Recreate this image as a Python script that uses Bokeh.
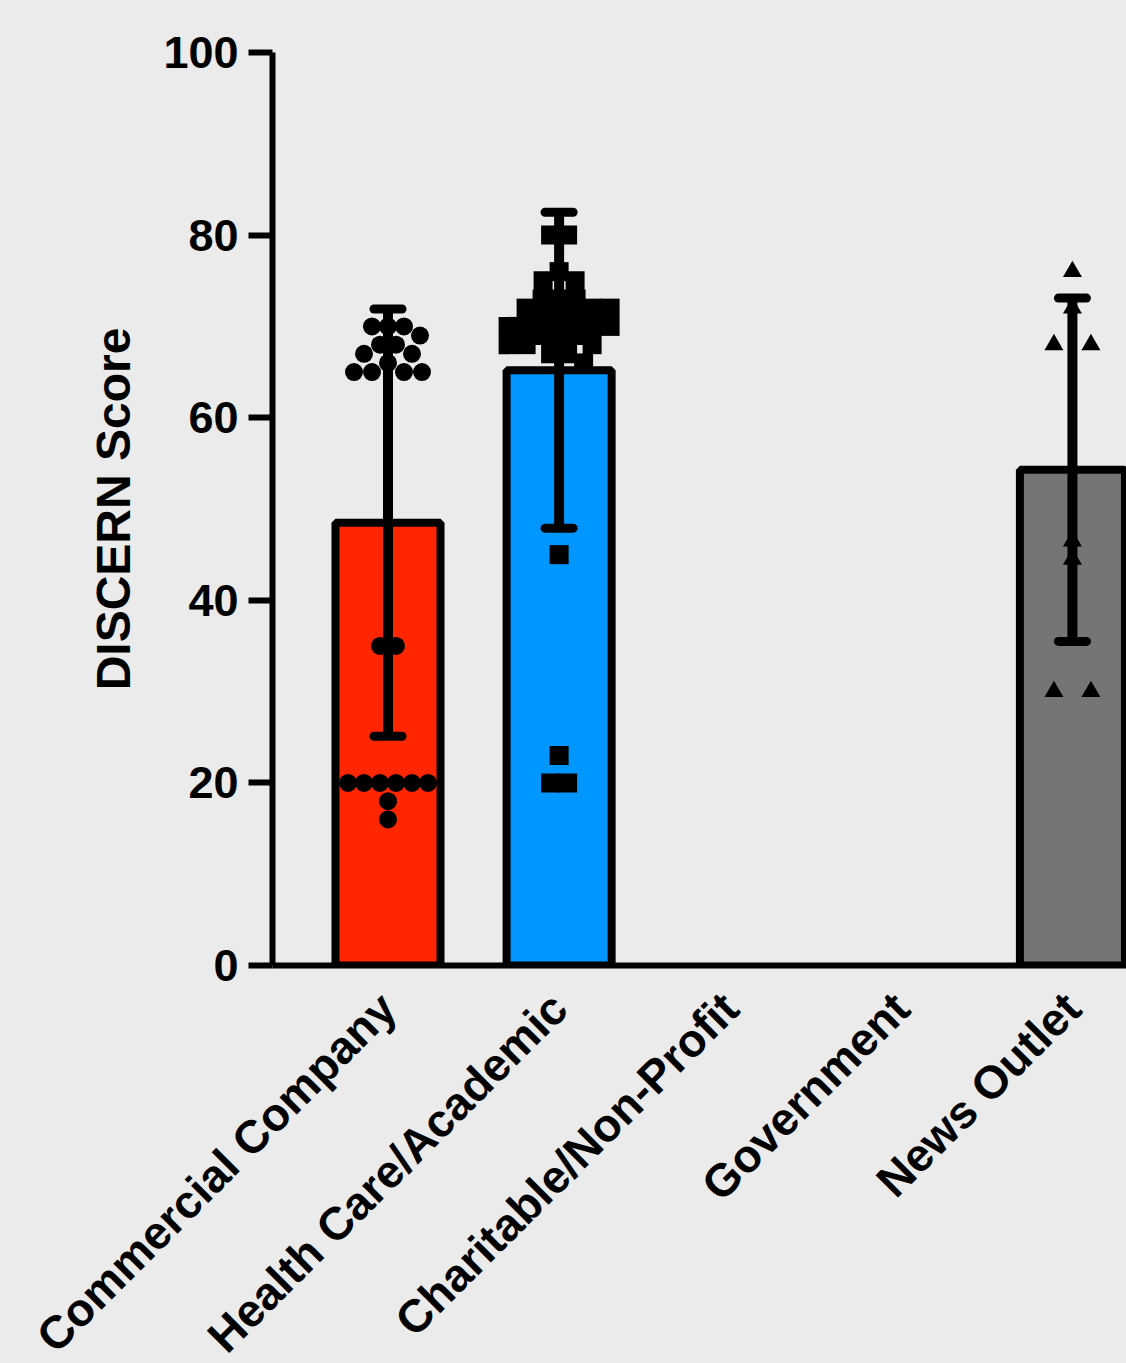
import numpy as np
from bokeh.plotting import figure
from bokeh.models import Range1d, FixedTicker, ColumnDataSource
from bokeh.embed import file_html
from bokeh.resources import INLINE

# ---------------- data ----------------
categories = ["Commercial Company", "Health Care/Academic", "Charitable/Non-Profit",
              "Government", "News Outlet"]
bar_means = [48.5, 65.2, None, None, 54.3]
bar_sds = [23.4, 17.3, None, None, 18.8]
bar_colors = ["#FF2600", "#0096FF", None, None, "#757575"]

commercial_scores = [70, 70, 70, 69, 68, 68, 67, 67, 66, 65, 65, 65, 65,
                     35, 35, 20, 20, 20, 20, 20, 20, 18, 16]
health_scores = [80, 80, 76, 75, 75, 73, 73, 73, 72, 72, 72, 71, 71, 71,
                 70, 70, 70, 70, 69, 69, 69, 68, 68, 68, 67, 67, 66, 45, 23, 20, 20]
news_scores = [76, 72, 68, 68, 46.5, 44.5, 30, 30]

y_ticks = [0, 20, 40, 60, 80, 100]

# ---------------- layout ----------------
BL, BT = 272, 52
FW, FH = 854, 913
X0, X1 = -0.675, 4.316
PX_X = FW / (X1 - X0)
PX_Y = FH / 100.0
BG = "#EBEBEB"
FONT = "Liberation Sans"

p = figure(frame_width=FW, frame_height=FH, output_backend="svg", toolbar_location=None,
           x_range=Range1d(X0, X1), y_range=Range1d(0, 100),
           min_border_left=BL, min_border_right=0, min_border_top=BT,
           min_border_bottom=0)
p.background_fill_color = BG
p.border_fill_color = BG
p.outline_line_color = None
p.xgrid.grid_line_color = None
p.ygrid.grid_line_color = None

# bars
bx = [i for i, m in enumerate(bar_means) if m is not None]
src_bars = ColumnDataSource(dict(
    x=bx, top=[bar_means[i] for i in bx], color=[bar_colors[i] for i in bx]))
p.vbar(x="x", top="top", bottom=0, width=0.614, fill_color="color",
       line_color="black", line_width=8, source=src_bars)


def swarm(vals, diam, row_gap):
    """Beeswarm offsets (data units): ties form centred rows, others greedy."""
    offs = [0.0] * len(vals)
    placed = []
    groups = {}
    for i, v in enumerate(vals):
        groups.setdefault(v, []).append(i)
    balance = 0

    def free(c, y):
        return all((c - px) ** 2 + (y - py) ** 2 >= diam ** 2 for px, py in placed)

    for v in sorted(groups, reverse=True):
        idx = groups[v]
        y = v * PX_Y
        n = len(idx)
        row = [(j - (n - 1) / 2.0) * row_gap for j in range(n)]
        if n > 1 and all(free(c, y) for c in row):
            for i, c in zip(idx, row):
                placed.append((c, y))
                offs[i] = c / PX_X
            continue
        for i in idx:
            best = None
            for k in range(0, 800):
                if k == 0:
                    cands = [0.0]
                elif balance <= 0:
                    cands = [k * 0.5, -k * 0.5]
                else:
                    cands = [-k * 0.5, k * 0.5]
                for c in cands:
                    if free(c, y):
                        best = c
                        break
                if best is not None:
                    break
            placed.append((best, y))
            balance += 1 if best > 0 else (-1 if best < 0 else 0)
            offs[i] = best / PX_X
    return offs


series = [
    (0, commercial_scores, "circle", 18, 18, 16),
    (1, health_scores, "square", 19, 18, 17),
    (4, news_scores, "triangle", 19, 17, 37),
]
for ci, vals, marker, size, diam, gap in series:
    offs = swarm(vals, diam, gap)
    p.scatter(x=[ci + o for o in offs], y=vals, marker=marker, size=size,
              fill_color="black", line_color=None)

# error bars (mean ± SD)
cap = 0.082
ex, lo, hi = [], [], []
for i in bx:
    ex.append(i)
    lo.append(bar_means[i] - bar_sds[i])
    hi.append(bar_means[i] + bar_sds[i])
p.segment(x0=ex, y0=lo, x1=ex, y1=hi, line_color="black", line_width=10)
p.segment(x0=[x - cap for x in ex] * 2, y0=lo + hi, x1=[x + cap for x in ex] * 2,
          y1=lo + hi, line_color="black", line_width=9, line_cap="round")

# y axis
ya = p.yaxis[0]
ya.ticker = FixedTicker(ticks=y_ticks)
ya.axis_label = "DISCERN Score"
ya.axis_label_text_font = FONT
ya.axis_label_text_font_style = "bold"
ya.axis_label_text_font_size = "48px"
ya.axis_label_text_color = "black"
ya.axis_label_standoff = 20
ya.major_label_text_font = FONT
ya.major_label_text_font_style = "bold"
ya.major_label_text_font_size = "45px"
ya.major_label_text_color = "black"
ya.major_label_standoff = 10
ya.major_tick_out = 24
ya.major_tick_in = 0
ya.major_tick_line_width = 6
ya.major_tick_line_color = "black"
ya.minor_tick_line_color = None
ya.axis_line_width = 6
ya.axis_line_color = "black"

# x axis
xa = p.xaxis[0]
xa.ticker = FixedTicker(ticks=list(range(len(categories))))
xa.major_label_overrides = {i: c for i, c in enumerate(categories)}
xa.major_label_orientation = np.pi / 4
xa.major_label_text_font = FONT
xa.major_label_text_font_style = "bold"
xa.major_label_text_font_size = "46px"
xa.major_label_text_color = "black"
xa.major_label_standoff = 35
xa.major_tick_line_color = None
xa.major_tick_out = 0
xa.major_tick_in = 0
xa.minor_tick_line_color = None
xa.axis_line_width = 6
xa.axis_line_color = "black"

html = file_html(p, INLINE)
html = html.replace(
    "<head>",
    "<head><style>html,body{background:#EBEBEB;overflow:hidden;}</style>", 1)
open("out.html", "w").write(html)
